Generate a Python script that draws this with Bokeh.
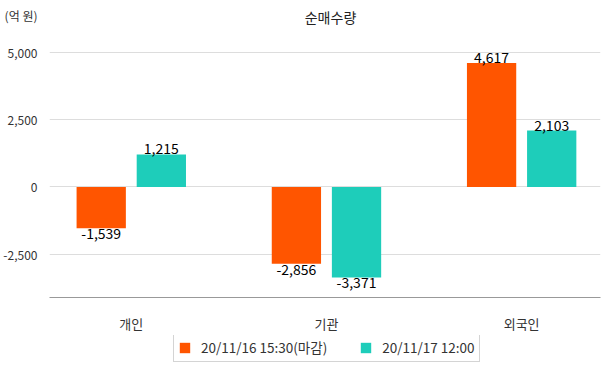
from bokeh.plotting import figure
from bokeh.layouts import column
from bokeh.models import (ColumnDataSource, FixedTicker, NumeralTickFormatter, Legend, LegendItem,
                          Label, LabelSet)
from bokeh.core.properties import value
from bokeh.embed import file_html
from bokeh.resources import INLINE

categories = ["개인", "기관", "외국인"]
series_names = ["20/11/16 15:30(마감)", "20/11/17 12:00"]
values_1116 = [-1539, -2856, 4617]
values_1117 = [1215, -3371, 2103]
y_ticks = [-2500, 0, 2500, 5000]
unit_text = "(억 원)"
title_text = "순매수량"

FONT = "Noto Sans CJK KR"
ORANGE = "#FF5500"
TEAL = "#1ECDBA"

Y_TOP = 6949
UNIT_Y = 6397

p = figure(width=607, height=335, output_backend="svg", toolbar_location=None,
           x_range=(-0.419, 2.404), y_range=(-4118, Y_TOP),
           min_border_left=41, min_border_right=7, min_border_top=0, min_border_bottom=34)
p.outline_line_color = None
p.background_fill_color = "white"

xs = list(range(len(categories)))
off = 0.154
bw = 0.2525

def fmt(v):
    return f"{v:,}"

src1 = ColumnDataSource(dict(x=[x - off for x in xs], top=values_1116,
                             lab=[fmt(v) for v in values_1116],
                             ly=values_1116,
                             base=["bottom" if v >= 0 else "top" for v in values_1116]))
src2 = ColumnDataSource(dict(x=[x + off for x in xs], top=values_1117,
                             lab=[fmt(v) for v in values_1117],
                             ly=values_1117,
                             base=["bottom" if v >= 0 else "top" for v in values_1117]))

r1 = p.vbar(x="x", top="top", bottom=0, width=bw, source=src1, fill_color=ORANGE, line_color=None)
r2 = p.vbar(x="x", top="top", bottom=0, width=bw, source=src2, fill_color=TEAL, line_color=None)

for src in (src1, src2):
    ls = LabelSet(x="x", y="ly", text="lab", source=src, text_align="center",
                  text_baseline="base", text_font=value(FONT), text_font_size="14px",
                  text_color="#000000", y_offset=0)
    p.add_layout(ls)

title = Label(x=281, y=281, x_units="screen", y_units="screen", text=title_text,
              text_align="center", text_baseline="middle",
              text_font=FONT, text_font_size="14px", text_color="#222222")
p.add_layout(title)

# axes
p.xaxis.ticker = FixedTicker(ticks=xs)
p.xaxis.major_label_overrides = {i: c for i, c in enumerate(categories)}
p.xaxis.major_label_text_font = FONT
p.xaxis.major_label_text_font_size = "13px"
p.xaxis.major_label_text_color = "#333333"
p.xaxis.major_tick_line_color = None
p.xaxis.minor_tick_line_color = None
p.xaxis.axis_line_color = "#999999"
p.xaxis.major_label_standoff = 10

p.yaxis.ticker = FixedTicker(ticks=y_ticks + [UNIT_Y])
p.yaxis.formatter = NumeralTickFormatter(format="0,0")
p.yaxis.major_label_overrides = {UNIT_Y: unit_text}
p.yaxis.major_label_text_font = FONT
p.yaxis.major_label_text_font_size = "12px"
p.yaxis.major_label_text_color = "#333333"
p.yaxis.major_tick_line_color = None
p.yaxis.minor_tick_line_color = None
p.yaxis.axis_line_color = None
p.yaxis.major_label_standoff = 6

p.xgrid.grid_line_color = None
p.ygrid.grid_line_color = "#DDDDDD"
p.ygrid.ticker = FixedTicker(ticks=y_ticks)

# legend strip
lg = figure(width=607, height=33, output_backend="svg", toolbar_location=None,
            x_range=(0, 1), y_range=(0, 1),
            x_axis_location=None, y_axis_location=None,
            min_border_left=0, min_border_right=0, min_border_top=0, min_border_bottom=0)
lg.outline_line_color = None
lg.xgrid.grid_line_color = None
lg.ygrid.grid_line_color = None
l1 = lg.vbar(x=[-5], top=[-5], bottom=[-6], width=1, fill_color=ORANGE, line_color=None)
l2 = lg.vbar(x=[-5], top=[-5], bottom=[-6], width=1, fill_color=TEAL, line_color=None)

legend = Legend(items=[LegendItem(label=series_names[0], renderers=[l1]),
                       LegendItem(label=series_names[1], renderers=[l2])],
                orientation="horizontal", location=(124, 6),
                label_text_font=FONT, label_text_font_size="13.5px", label_text_color="#333333",
                glyph_width=13, glyph_height=13, spacing=32, padding=4, margin=0,
                label_height=17, label_standoff=10,
                border_line_color="#AAAAAA", background_fill_alpha=1)
lg.add_layout(legend)

layout = column(p, lg, spacing=0)
open("out.html", "w").write(file_html(layout, INLINE))
